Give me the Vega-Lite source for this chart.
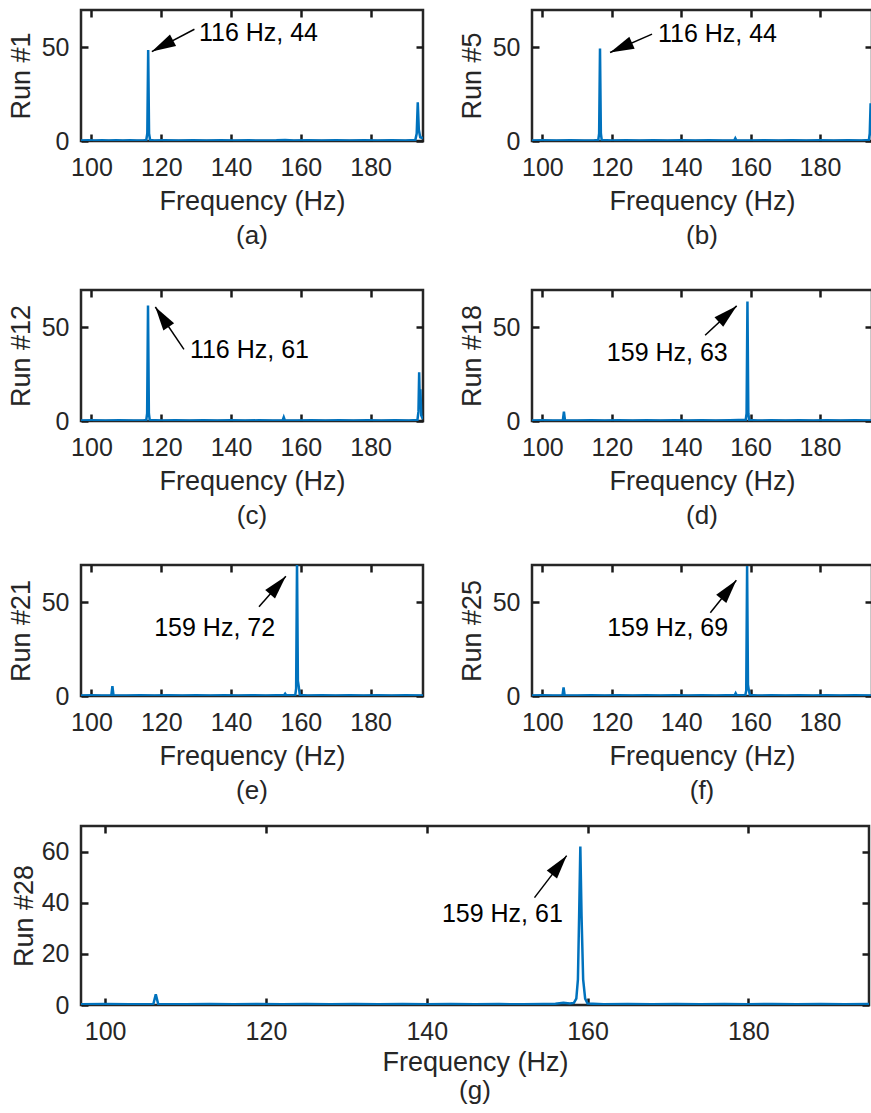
{
  "$schema": "https://vega.github.io/schema/vega-lite/v6.json",
  "background": "white",
  "padding": {"left": 5, "top": 7, "right": 0, "bottom": 0},
  "config": {
    "font": "Liberation Sans",
    "view": {"stroke": "#262626", "strokeWidth": 2.5},
    "axis": {"labelFont": "Liberation Sans", "labelFontSize": 25, "labelColor": "#262626", "titleFont": "Liberation Sans", "titleFontSize": 27, "titleFontWeight": "normal", "titleColor": "#262626", "ticks": true, "tickColor": "#1a1a1a", "tickWidth": 2.5, "tickSize": -7, "domain": false, "grid": false, "labelFlush": false, "labelOverlap": false},
    "axisX": {"labelPadding": 21, "titlePadding": 8},
    "axisY": {"labelPadding": 19, "titlePadding": 6},
    "title": {"orient": "bottom", "frame": "group", "anchor": "middle", "font": "Liberation Sans", "fontSize": 26, "fontWeight": "normal", "color": "#262626", "offset": 9}
  },
  "datasets": {
    "r1": [{"f":97,"v":0.3},{"f":99,"v":0.4},{"f":101,"v":0.3},{"f":103,"v":0.35},{"f":105,"v":0.3},{"f":107,"v":0.4},{"f":109,"v":0.3},{"f":111,"v":0.35},{"f":113,"v":0.3},{"f":115,"v":0.4},{"f":115.7,"v":0.5},{"f":116.0,"v":4},{"f":116.25,"v":48.6},{"f":116.5,"v":4},{"f":116.8,"v":0.5},{"f":118,"v":0.3},{"f":121,"v":0.4},{"f":125,"v":0.3},{"f":129,"v":0.35},{"f":133,"v":0.3},{"f":137,"v":0.4},{"f":141,"v":0.3},{"f":145,"v":0.35},{"f":149,"v":0.3},{"f":153,"v":0.4},{"f":155.5,"v":0.6},{"f":158,"v":0.3},{"f":162,"v":0.35},{"f":166,"v":0.3},{"f":170,"v":0.4},{"f":174,"v":0.3},{"f":178,"v":0.35},{"f":182,"v":0.3},{"f":186,"v":0.4},{"f":190,"v":0.3},{"f":192.8,"v":0.5},{"f":193.2,"v":4},{"f":193.5,"v":20.7},{"f":193.8,"v":6},{"f":194.2,"v":2},{"f":195,"v":1.5}],
    "r5": [{"f":97,"v":0.3},{"f":100,"v":0.4},{"f":104,"v":0.3},{"f":108,"v":0.35},{"f":112,"v":0.3},{"f":115,"v":0.4},{"f":116.1,"v":0.5},{"f":116.35,"v":4},{"f":116.6,"v":49.4},{"f":116.85,"v":4},{"f":117.1,"v":0.5},{"f":120,"v":0.3},{"f":124,"v":0.4},{"f":128,"v":0.3},{"f":132,"v":0.35},{"f":136,"v":0.3},{"f":140,"v":0.4},{"f":144,"v":0.3},{"f":148,"v":0.35},{"f":152,"v":0.3},{"f":155.3,"v":0.4},{"f":155.6,"v":1.5},{"f":155.9,"v":0.4},{"f":160,"v":0.3},{"f":164,"v":0.35},{"f":168,"v":0.3},{"f":172,"v":0.4},{"f":176,"v":0.3},{"f":180,"v":0.35},{"f":184,"v":0.3},{"f":188,"v":0.4},{"f":192,"v":0.3},{"f":194.1,"v":0.5},{"f":194.35,"v":4},{"f":194.6,"v":20.2},{"f":194.85,"v":6},{"f":195,"v":3}],
    "r12": [{"f":97,"v":0.3},{"f":100,"v":0.4},{"f":104,"v":0.3},{"f":108,"v":0.35},{"f":112,"v":0.3},{"f":115,"v":0.4},{"f":115.7,"v":0.5},{"f":115.95,"v":4},{"f":116.2,"v":61.7},{"f":116.45,"v":4},{"f":116.7,"v":0.5},{"f":120,"v":0.3},{"f":124,"v":0.4},{"f":128,"v":0.3},{"f":132,"v":0.35},{"f":136,"v":0.3},{"f":140,"v":0.4},{"f":144,"v":0.3},{"f":148,"v":0.35},{"f":152,"v":0.3},{"f":154.8,"v":0.4},{"f":155.1,"v":2},{"f":155.4,"v":0.4},{"f":159,"v":0.3},{"f":163,"v":0.35},{"f":167,"v":0.3},{"f":171,"v":0.4},{"f":175,"v":0.3},{"f":179,"v":0.35},{"f":183,"v":0.3},{"f":187,"v":0.4},{"f":191,"v":0.3},{"f":193.4,"v":0.5},{"f":193.7,"v":5},{"f":193.9,"v":26},{"f":194.1,"v":8},{"f":194.25,"v":17},{"f":194.5,"v":3},{"f":195,"v":1}],
    "r18": [{"f":97,"v":0.3},{"f":100,"v":0.4},{"f":103,"v":0.3},{"f":105.9,"v":0.4},{"f":106.2,"v":5},{"f":106.5,"v":0.4},{"f":110,"v":0.3},{"f":114,"v":0.35},{"f":118,"v":0.3},{"f":122,"v":0.4},{"f":126,"v":0.3},{"f":130,"v":0.35},{"f":134,"v":0.3},{"f":138,"v":0.4},{"f":142,"v":0.3},{"f":146,"v":0.35},{"f":150,"v":0.3},{"f":154,"v":0.4},{"f":156.5,"v":0.5},{"f":158.6,"v":0.5},{"f":158.85,"v":4},{"f":159.1,"v":63.9},{"f":159.35,"v":4},{"f":159.6,"v":0.5},{"f":162,"v":0.3},{"f":166,"v":0.35},{"f":170,"v":0.3},{"f":174,"v":0.4},{"f":178,"v":0.3},{"f":182,"v":0.35},{"f":186,"v":0.3},{"f":190,"v":0.4},{"f":195,"v":0.3}],
    "r21": [{"f":97,"v":0.3},{"f":100,"v":0.4},{"f":103,"v":0.3},{"f":105.7,"v":0.4},{"f":106.0,"v":5.3},{"f":106.3,"v":0.4},{"f":110,"v":0.3},{"f":114,"v":0.35},{"f":118,"v":0.3},{"f":122,"v":0.4},{"f":126,"v":0.3},{"f":130,"v":0.35},{"f":134,"v":0.3},{"f":138,"v":0.4},{"f":142,"v":0.3},{"f":146,"v":0.35},{"f":150,"v":0.3},{"f":153,"v":0.4},{"f":155.2,"v":0.4},{"f":155.5,"v":1.2},{"f":155.8,"v":0.4},{"f":158.4,"v":0.5},{"f":158.65,"v":4},{"f":158.9,"v":72},{"f":159.15,"v":8},{"f":159.4,"v":5},{"f":159.7,"v":0.5},{"f":162,"v":0.3},{"f":166,"v":0.35},{"f":170,"v":0.3},{"f":174,"v":0.4},{"f":178,"v":0.3},{"f":182,"v":0.35},{"f":186,"v":0.3},{"f":190,"v":0.4},{"f":195,"v":0.3}],
    "r25": [{"f":97,"v":0.3},{"f":100,"v":0.4},{"f":103,"v":0.3},{"f":105.8,"v":0.4},{"f":106.1,"v":4.6},{"f":106.4,"v":0.4},{"f":110,"v":0.3},{"f":114,"v":0.35},{"f":118,"v":0.3},{"f":122,"v":0.4},{"f":126,"v":0.3},{"f":130,"v":0.35},{"f":134,"v":0.3},{"f":138,"v":0.4},{"f":142,"v":0.3},{"f":146,"v":0.35},{"f":150,"v":0.3},{"f":153,"v":0.4},{"f":155.4,"v":0.4},{"f":155.7,"v":1.5},{"f":156.0,"v":0.4},{"f":158.5,"v":0.5},{"f":158.75,"v":3},{"f":159.0,"v":69.5},{"f":159.25,"v":6},{"f":159.5,"v":3},{"f":159.8,"v":0.5},{"f":162,"v":0.3},{"f":166,"v":0.35},{"f":170,"v":0.3},{"f":174,"v":0.4},{"f":178,"v":0.3},{"f":182,"v":0.35},{"f":186,"v":0.3},{"f":190,"v":0.4},{"f":195,"v":0.3}],
    "r28": [{"f":97,"v":0.3},{"f":100,"v":0.4},{"f":103,"v":0.3},{"f":106.0,"v":0.4},{"f":106.3,"v":4.2},{"f":106.6,"v":0.4},{"f":110,"v":0.3},{"f":113,"v":0.35},{"f":116,"v":0.3},{"f":119,"v":0.4},{"f":122,"v":0.3},{"f":125,"v":0.35},{"f":128,"v":0.3},{"f":131,"v":0.4},{"f":134,"v":0.3},{"f":137,"v":0.35},{"f":140,"v":0.3},{"f":143,"v":0.4},{"f":146,"v":0.3},{"f":149,"v":0.35},{"f":152,"v":0.3},{"f":154.5,"v":0.4},{"f":156,"v":0.5},{"f":157,"v":0.9},{"f":157.8,"v":0.6},{"f":158.3,"v":0.8},{"f":158.6,"v":2.5},{"f":158.8,"v":10},{"f":158.95,"v":35},{"f":159.1,"v":62},{"f":159.25,"v":35},{"f":159.45,"v":10},{"f":159.7,"v":2.5},{"f":160.0,"v":0.6},{"f":162,"v":0.3},{"f":165,"v":0.35},{"f":168,"v":0.3},{"f":171,"v":0.4},{"f":174,"v":0.3},{"f":177,"v":0.35},{"f":180,"v":0.3},{"f":183,"v":0.4},{"f":186,"v":0.3},{"f":189,"v":0.35},{"f":192,"v":0.3},{"f":195,"v":0.4}],
    "ann": [
      {"p":"a","label":"116 Hz, 44","tx":130.8,"ty":57.8,"x0":129.5,"y0":59.7,"x1":117.3,"y1":47.8},
      {"p":"b","label":"116 Hz, 44","tx":133.3,"ty":57.1,"x0":131.6,"y0":57.1,"x1":119.5,"y1":47.3},
      {"p":"c","label":"116 Hz, 61","tx":128.2,"ty":37.7,"x0":126.5,"y0":38.3,"x1":118.3,"y1":60.9},
      {"p":"d","label":"159 Hz, 63","tx":136.0,"ty":36.5,"x0":146.9,"y0":45.8,"x1":156.0,"y1":61.5},
      {"p":"e","label":"159 Hz, 72","tx":135.3,"ty":36.1,"x0":148.0,"y0":47.7,"x1":155.7,"y1":64.0},
      {"p":"f","label":"159 Hz, 69","tx":136.1,"ty":36.1,"x0":148.4,"y0":44.5,"x1":155.9,"y1":61.9},
      {"p":"g","label":"159 Hz, 61","tx":149.4,"ty":35.4,"x0":153.4,"y0":42.0,"x1":157.4,"y1":58.4}
    ]
  },
  "spacing": 17,
  "vconcat": [
    {
      "spacing": 36,
      "vconcat": [
        {
          "spacing": 30,
          "hconcat": [
            {
              "width": 342, "height": 131, "title": "(a)",
              "resolve": {"axis": {"x": "independent", "y": "independent"}},
              "layer": [
                {"data": {"name": "r1"}, "mark": {"type": "line", "color": "#0072BD", "strokeWidth": 2.5, "clip": true},
                 "encoding": {"x": {"field": "f", "type": "quantitative", "scale": {"domain": [97,195], "nice": false, "zero": false}, "axis": {"values": [100,120,140,160,180], "title": "Frequency (Hz)"}},
                              "y": {"field": "v", "type": "quantitative", "scale": {"domain": [0,70], "nice": false}, "axis": {"values": [0,50], "title": "Run #1"}}}},
                {"data": {"name": "ann"}, "transform": [{"filter": "datum.p == 'a'"}], "mark": {"type": "rule", "color": "black", "strokeWidth": 1.5},
                 "encoding": {"x": {"field": "x0", "type": "quantitative", "scale": {"domain": [97,195], "nice": false, "zero": false}, "axis": {"orient": "top", "values": [100,120,140,160,180], "labels": false, "title": null}},
                              "y": {"field": "y0", "type": "quantitative", "scale": {"domain": [0,70], "nice": false}, "axis": {"orient": "right", "values": [0,50], "labels": false, "title": null}},
                              "x2": {"field": "x1"}, "y2": {"field": "y1"}}},
                {"data": {"name": "ann"}, "transform": [{"filter": "datum.p == 'a'"}], "mark": {"type": "point", "shape": "M0,0L0.65,2.4L-0.65,2.4Z", "size": 400, "filled": true, "color": "black", "opacity": 1, "angle": 242},
                 "encoding": {"x": {"field": "x1", "type": "quantitative", "scale": {"domain": [97,195], "nice": false, "zero": false}, "axis": null},
                              "y": {"field": "y1", "type": "quantitative", "scale": {"domain": [0,70], "nice": false}, "axis": null}}},
                {"data": {"name": "ann"}, "transform": [{"filter": "datum.p == 'a'"}], "mark": {"type": "text", "align": "left", "baseline": "middle", "fontSize": 25, "font": "Liberation Sans", "color": "black"},
                 "encoding": {"x": {"field": "tx", "type": "quantitative", "scale": {"domain": [97,195], "nice": false, "zero": false}, "axis": null},
                              "y": {"field": "ty", "type": "quantitative", "scale": {"domain": [0,70], "nice": false}, "axis": null},
                              "text": {"field": "label"}}}
              ]
            },
            {
              "width": 340, "height": 131, "title": "(b)",
              "resolve": {"axis": {"x": "independent", "y": "independent"}},
              "layer": [
                {"data": {"name": "r5"}, "mark": {"type": "line", "color": "#0072BD", "strokeWidth": 2.5, "clip": true},
                 "encoding": {"x": {"field": "f", "type": "quantitative", "scale": {"domain": [97,195], "nice": false, "zero": false}, "axis": {"values": [100,120,140,160,180], "title": "Frequency (Hz)"}},
                              "y": {"field": "v", "type": "quantitative", "scale": {"domain": [0,70], "nice": false}, "axis": {"values": [0,50], "title": "Run #5"}}}},
                {"data": {"name": "ann"}, "transform": [{"filter": "datum.p == 'b'"}], "mark": {"type": "rule", "color": "black", "strokeWidth": 1.5},
                 "encoding": {"x": {"field": "x0", "type": "quantitative", "scale": {"domain": [97,195], "nice": false, "zero": false}, "axis": {"orient": "top", "values": [100,120,140,160,180], "labels": false, "title": null}},
                              "y": {"field": "y0", "type": "quantitative", "scale": {"domain": [0,70], "nice": false}, "axis": {"orient": "right", "values": [0,50], "labels": false, "title": null}},
                              "x2": {"field": "x1"}, "y2": {"field": "y1"}}},
                {"data": {"name": "ann"}, "transform": [{"filter": "datum.p == 'b'"}], "mark": {"type": "point", "shape": "M0,0L0.65,2.4L-0.65,2.4Z", "size": 400, "filled": true, "color": "black", "opacity": 1, "angle": 246},
                 "encoding": {"x": {"field": "x1", "type": "quantitative", "scale": {"domain": [97,195], "nice": false, "zero": false}, "axis": null},
                              "y": {"field": "y1", "type": "quantitative", "scale": {"domain": [0,70], "nice": false}, "axis": null}}},
                {"data": {"name": "ann"}, "transform": [{"filter": "datum.p == 'b'"}], "mark": {"type": "text", "align": "left", "baseline": "middle", "fontSize": 25, "font": "Liberation Sans", "color": "black"},
                 "encoding": {"x": {"field": "tx", "type": "quantitative", "scale": {"domain": [97,195], "nice": false, "zero": false}, "axis": null},
                              "y": {"field": "ty", "type": "quantitative", "scale": {"domain": [0,70], "nice": false}, "axis": null},
                              "text": {"field": "label"}}}
              ]
            }
          ]
        },
        {
          "spacing": 31,
          "vconcat": [
            {
              "spacing": 30,
              "hconcat": [
                {
                  "width": 342, "height": 131, "title": "(c)",
                  "resolve": {"axis": {"x": "independent", "y": "independent"}},
                  "layer": [
                    {"data": {"name": "r12"}, "mark": {"type": "line", "color": "#0072BD", "strokeWidth": 2.5, "clip": true},
                     "encoding": {"x": {"field": "f", "type": "quantitative", "scale": {"domain": [97,195], "nice": false, "zero": false}, "axis": {"values": [100,120,140,160,180], "title": "Frequency (Hz)"}},
                                  "y": {"field": "v", "type": "quantitative", "scale": {"domain": [0,70], "nice": false}, "axis": {"values": [0,50], "title": "Run #12"}}}},
                    {"data": {"name": "ann"}, "transform": [{"filter": "datum.p == 'c'"}], "mark": {"type": "rule", "color": "black", "strokeWidth": 1.5},
                     "encoding": {"x": {"field": "x0", "type": "quantitative", "scale": {"domain": [97,195], "nice": false, "zero": false}, "axis": {"orient": "top", "values": [100,120,140,160,180], "labels": false, "title": null}},
                                  "y": {"field": "y0", "type": "quantitative", "scale": {"domain": [0,70], "nice": false}, "axis": {"orient": "right", "values": [0,50], "labels": false, "title": null}},
                                  "x2": {"field": "x1"}, "y2": {"field": "y1"}}},
                    {"data": {"name": "ann"}, "transform": [{"filter": "datum.p == 'c'"}], "mark": {"type": "point", "shape": "M0,0L0.65,2.4L-0.65,2.4Z", "size": 400, "filled": true, "color": "black", "opacity": 1, "angle": 326},
                     "encoding": {"x": {"field": "x1", "type": "quantitative", "scale": {"domain": [97,195], "nice": false, "zero": false}, "axis": null},
                                  "y": {"field": "y1", "type": "quantitative", "scale": {"domain": [0,70], "nice": false}, "axis": null}}},
                    {"data": {"name": "ann"}, "transform": [{"filter": "datum.p == 'c'"}], "mark": {"type": "text", "align": "left", "baseline": "middle", "fontSize": 25, "font": "Liberation Sans", "color": "black"},
                     "encoding": {"x": {"field": "tx", "type": "quantitative", "scale": {"domain": [97,195], "nice": false, "zero": false}, "axis": null},
                                  "y": {"field": "ty", "type": "quantitative", "scale": {"domain": [0,70], "nice": false}, "axis": null},
                                  "text": {"field": "label"}}}
                  ]
                },
                {
                  "width": 340, "height": 131, "title": "(d)",
                  "resolve": {"axis": {"x": "independent", "y": "independent"}},
                  "layer": [
                    {"data": {"name": "r18"}, "mark": {"type": "line", "color": "#0072BD", "strokeWidth": 2.5, "clip": true},
                     "encoding": {"x": {"field": "f", "type": "quantitative", "scale": {"domain": [97,195], "nice": false, "zero": false}, "axis": {"values": [100,120,140,160,180], "title": "Frequency (Hz)"}},
                                  "y": {"field": "v", "type": "quantitative", "scale": {"domain": [0,70], "nice": false}, "axis": {"values": [0,50], "title": "Run #18"}}}},
                    {"data": {"name": "ann"}, "transform": [{"filter": "datum.p == 'd'"}], "mark": {"type": "rule", "color": "black", "strokeWidth": 1.5},
                     "encoding": {"x": {"field": "x0", "type": "quantitative", "scale": {"domain": [97,195], "nice": false, "zero": false}, "axis": {"orient": "top", "values": [100,120,140,160,180], "labels": false, "title": null}},
                                  "y": {"field": "y0", "type": "quantitative", "scale": {"domain": [0,70], "nice": false}, "axis": {"orient": "right", "values": [0,50], "labels": false, "title": null}},
                                  "x2": {"field": "x1"}, "y2": {"field": "y1"}}},
                    {"data": {"name": "ann"}, "transform": [{"filter": "datum.p == 'd'"}], "mark": {"type": "point", "shape": "M0,0L0.65,2.4L-0.65,2.4Z", "size": 400, "filled": true, "color": "black", "opacity": 1, "angle": 48},
                     "encoding": {"x": {"field": "x1", "type": "quantitative", "scale": {"domain": [97,195], "nice": false, "zero": false}, "axis": null},
                                  "y": {"field": "y1", "type": "quantitative", "scale": {"domain": [0,70], "nice": false}, "axis": null}}},
                    {"data": {"name": "ann"}, "transform": [{"filter": "datum.p == 'd'"}], "mark": {"type": "text", "align": "center", "baseline": "middle", "fontSize": 25, "font": "Liberation Sans", "color": "black"},
                     "encoding": {"x": {"field": "tx", "type": "quantitative", "scale": {"domain": [97,195], "nice": false, "zero": false}, "axis": null},
                                  "y": {"field": "ty", "type": "quantitative", "scale": {"domain": [0,70], "nice": false}, "axis": null},
                                  "text": {"field": "label"}}}
                  ]
                }
              ]
            },
            {
              "spacing": 30,
              "hconcat": [
                {
                  "width": 342, "height": 131, "title": "(e)",
                  "resolve": {"axis": {"x": "independent", "y": "independent"}},
                  "layer": [
                    {"data": {"name": "r21"}, "mark": {"type": "line", "color": "#0072BD", "strokeWidth": 2.5, "clip": true},
                     "encoding": {"x": {"field": "f", "type": "quantitative", "scale": {"domain": [97,195], "nice": false, "zero": false}, "axis": {"values": [100,120,140,160,180], "title": "Frequency (Hz)"}},
                                  "y": {"field": "v", "type": "quantitative", "scale": {"domain": [0,70], "nice": false}, "axis": {"values": [0,50], "title": "Run #21"}}}},
                    {"data": {"name": "ann"}, "transform": [{"filter": "datum.p == 'e'"}], "mark": {"type": "rule", "color": "black", "strokeWidth": 1.5},
                     "encoding": {"x": {"field": "x0", "type": "quantitative", "scale": {"domain": [97,195], "nice": false, "zero": false}, "axis": {"orient": "top", "values": [100,120,140,160,180], "labels": false, "title": null}},
                                  "y": {"field": "y0", "type": "quantitative", "scale": {"domain": [0,70], "nice": false}, "axis": {"orient": "right", "values": [0,50], "labels": false, "title": null}},
                                  "x2": {"field": "x1"}, "y2": {"field": "y1"}}},
                    {"data": {"name": "ann"}, "transform": [{"filter": "datum.p == 'e'"}], "mark": {"type": "point", "shape": "M0,0L0.65,2.4L-0.65,2.4Z", "size": 400, "filled": true, "color": "black", "opacity": 1, "angle": 41},
                     "encoding": {"x": {"field": "x1", "type": "quantitative", "scale": {"domain": [97,195], "nice": false, "zero": false}, "axis": null},
                                  "y": {"field": "y1", "type": "quantitative", "scale": {"domain": [0,70], "nice": false}, "axis": null}}},
                    {"data": {"name": "ann"}, "transform": [{"filter": "datum.p == 'e'"}], "mark": {"type": "text", "align": "center", "baseline": "middle", "fontSize": 25, "font": "Liberation Sans", "color": "black"},
                     "encoding": {"x": {"field": "tx", "type": "quantitative", "scale": {"domain": [97,195], "nice": false, "zero": false}, "axis": null},
                                  "y": {"field": "ty", "type": "quantitative", "scale": {"domain": [0,70], "nice": false}, "axis": null},
                                  "text": {"field": "label"}}}
                  ]
                },
                {
                  "width": 340, "height": 131, "title": "(f)",
                  "resolve": {"axis": {"x": "independent", "y": "independent"}},
                  "layer": [
                    {"data": {"name": "r25"}, "mark": {"type": "line", "color": "#0072BD", "strokeWidth": 2.5, "clip": true},
                     "encoding": {"x": {"field": "f", "type": "quantitative", "scale": {"domain": [97,195], "nice": false, "zero": false}, "axis": {"values": [100,120,140,160,180], "title": "Frequency (Hz)"}},
                                  "y": {"field": "v", "type": "quantitative", "scale": {"domain": [0,70], "nice": false}, "axis": {"values": [0,50], "title": "Run #25"}}}},
                    {"data": {"name": "ann"}, "transform": [{"filter": "datum.p == 'f'"}], "mark": {"type": "rule", "color": "black", "strokeWidth": 1.5},
                     "encoding": {"x": {"field": "x0", "type": "quantitative", "scale": {"domain": [97,195], "nice": false, "zero": false}, "axis": {"orient": "top", "values": [100,120,140,160,180], "labels": false, "title": null}},
                                  "y": {"field": "y0", "type": "quantitative", "scale": {"domain": [0,70], "nice": false}, "axis": {"orient": "right", "values": [0,50], "labels": false, "title": null}},
                                  "x2": {"field": "x1"}, "y2": {"field": "y1"}}},
                    {"data": {"name": "ann"}, "transform": [{"filter": "datum.p == 'f'"}], "mark": {"type": "point", "shape": "M0,0L0.65,2.4L-0.65,2.4Z", "size": 400, "filled": true, "color": "black", "opacity": 1, "angle": 39},
                     "encoding": {"x": {"field": "x1", "type": "quantitative", "scale": {"domain": [97,195], "nice": false, "zero": false}, "axis": null},
                                  "y": {"field": "y1", "type": "quantitative", "scale": {"domain": [0,70], "nice": false}, "axis": null}}},
                    {"data": {"name": "ann"}, "transform": [{"filter": "datum.p == 'f'"}], "mark": {"type": "text", "align": "center", "baseline": "middle", "fontSize": 25, "font": "Liberation Sans", "color": "black"},
                     "encoding": {"x": {"field": "tx", "type": "quantitative", "scale": {"domain": [97,195], "nice": false, "zero": false}, "axis": null},
                                  "y": {"field": "ty", "type": "quantitative", "scale": {"domain": [0,70], "nice": false}, "axis": null},
                                  "text": {"field": "label"}}}
                  ]
                }
              ]
            }
          ]
        }
      ]
    },
    {
      "width": 788, "height": 179,
      "title": {"text": "(g)", "offset": 3},
      "resolve": {"axis": {"x": "independent", "y": "independent"}},
      "layer": [
        {"data": {"name": "r28"}, "mark": {"type": "line", "color": "#0072BD", "strokeWidth": 2.5, "clip": true},
         "encoding": {"x": {"field": "f", "type": "quantitative", "scale": {"domain": [97,195], "nice": false, "zero": false}, "axis": {"values": [100,120,140,160,180], "title": "Frequency (Hz)", "titlePadding": 5}},
                      "y": {"field": "v", "type": "quantitative", "scale": {"domain": [0,70], "nice": false}, "axis": {"values": [0,20,40,60], "title": "Run #28", "titlePadding": 3}}}},
        {"data": {"name": "ann"}, "transform": [{"filter": "datum.p == 'g'"}], "mark": {"type": "rule", "color": "black", "strokeWidth": 1.5},
         "encoding": {"x": {"field": "x0", "type": "quantitative", "scale": {"domain": [97,195], "nice": false, "zero": false}, "axis": {"orient": "top", "values": [100,120,140,160,180], "labels": false, "title": null}},
                      "y": {"field": "y0", "type": "quantitative", "scale": {"domain": [0,70], "nice": false}, "axis": {"orient": "right", "values": [0,20,40,60], "labels": false, "title": null}},
                      "x2": {"field": "x1"}, "y2": {"field": "y1"}}},
        {"data": {"name": "ann"}, "transform": [{"filter": "datum.p == 'g'"}], "mark": {"type": "point", "shape": "M0,0L0.65,2.4L-0.65,2.4Z", "size": 400, "filled": true, "color": "black", "opacity": 1, "angle": 38},
         "encoding": {"x": {"field": "x1", "type": "quantitative", "scale": {"domain": [97,195], "nice": false, "zero": false}, "axis": null},
                      "y": {"field": "y1", "type": "quantitative", "scale": {"domain": [0,70], "nice": false}, "axis": null}}},
        {"data": {"name": "ann"}, "transform": [{"filter": "datum.p == 'g'"}], "mark": {"type": "text", "align": "center", "baseline": "middle", "fontSize": 25, "font": "Liberation Sans", "color": "black"},
         "encoding": {"x": {"field": "tx", "type": "quantitative", "scale": {"domain": [97,195], "nice": false, "zero": false}, "axis": null},
                      "y": {"field": "ty", "type": "quantitative", "scale": {"domain": [0,70], "nice": false}, "axis": null},
                      "text": {"field": "label"}}}
      ]
    }
  ]
}
